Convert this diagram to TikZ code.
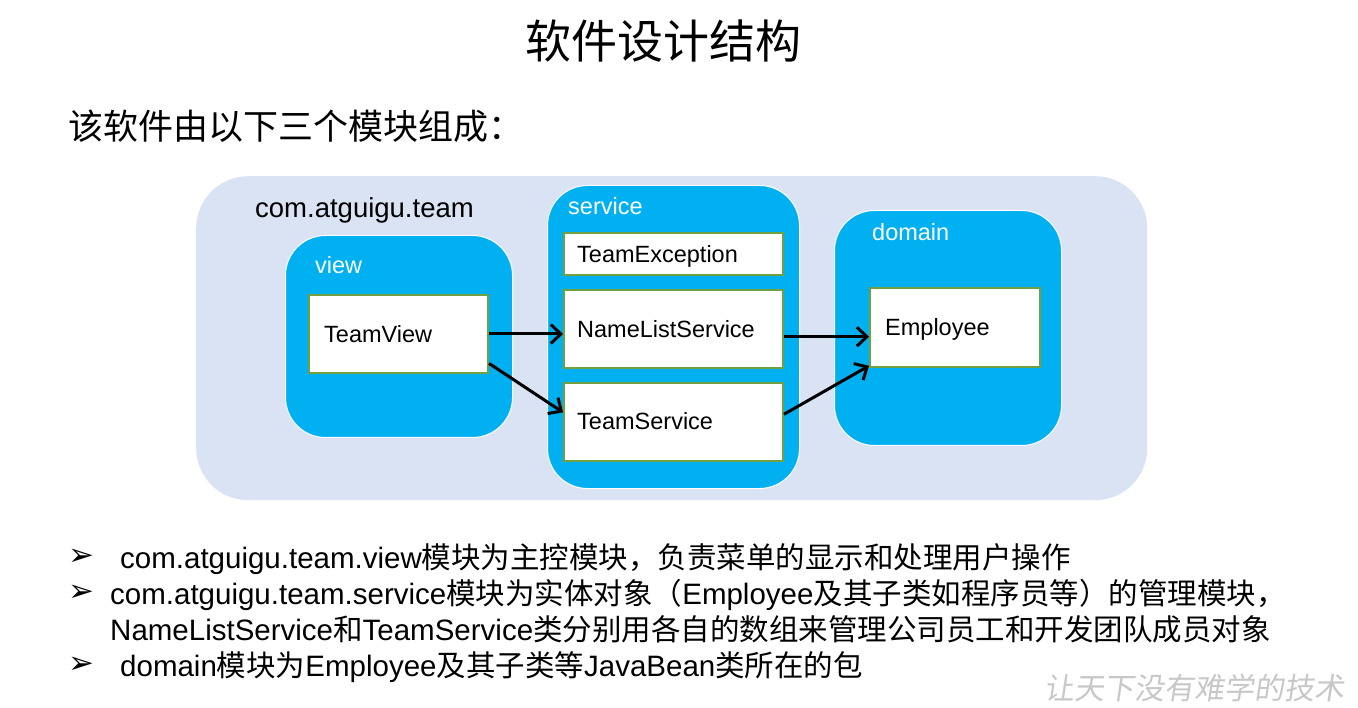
\documentclass[tikz,border=0pt]{standalone}
\usepackage{fontspec}
\setmainfont{Liberation Sans}
\newfontfamily\cjk{Noto Sans CJK SC}
\newfontfamily\wmfont[FakeSlant=0.15]{Noto Sans CJK SC}
\newfontfamily\dingfont{DejaVu Sans}
\usetikzlibrary{arrows.meta}
\definecolor{pagebg}{RGB}{218,227,243}
\definecolor{pkgblue}{RGB}{0,176,240}
\definecolor{boxgreen}{RGB}{112,160,64}
\newcommand{\zh}[1]{{\cjk #1}}

\begin{document}
\begin{tikzpicture}[
    x=1pt, y=-1pt,
    outer/.style={rectangle, rounded corners=52pt, fill=pagebg, anchor=north west, inner sep=0pt},
    pkg/.style={rectangle, rounded corners=40pt, draw=white, line width=1pt, fill=pkgblue, anchor=north west, inner sep=0pt},
    cls/.style={rectangle, draw=boxgreen, line width=2pt, fill=white, anchor=north west, inner sep=0pt},
    lbl/.style={anchor=base west, inner sep=0pt, font=\fontsize{23.5}{28}\selectfont},
    pkglbl/.style={lbl, text=white},
    item/.style={anchor=base west, inner sep=0pt, font=\fontsize{29.5}{36}\selectfont},
    bullet/.style={anchor=west, inner sep=0pt, font=\dingfont\fontsize{31}{34}\selectfont},
    dep/.style={-{Straight Barb[length=10pt,width=19pt]}, line width=3pt}
]
\useasboundingbox (0,0) rectangle (1358,708);

% Heading
\node[anchor=base, inner sep=0pt, font=\cjk\fontsize{46}{50}\selectfont] (title) at (663,59) {软件设计结构};
\node[anchor=base west, inner sep=0pt, font=\cjk\fontsize{35}{40}\selectfont] (intro) at (68,140) {该软件由以下三个模块组成：};

% Packages
\node[outer, minimum width=951pt, minimum height=324pt] (team) at (196,176) {};
\node[lbl, font=\fontsize{27.5}{32}\selectfont] (teamlbl) at (255,218) {com.atguigu.team};

\node[pkg, minimum width=227pt, minimum height=202pt] (view) at (285,235) {};
\node[pkg, minimum width=252pt, minimum height=303pt] (service) at (547,185) {};
\node[pkg, minimum width=227pt, minimum height=235pt] (domain) at (834,210) {};

\node[pkglbl] (viewlbl) at (315,274) {view};
\node[pkglbl] (servicelbl) at (568,215) {service};
\node[pkglbl] (domainlbl) at (872,241) {domain};

% Classes
\node[cls, minimum width=179pt, minimum height=78pt] (tv) at (308,294) {};
\node[cls, minimum width=219pt, minimum height=42pt] (te) at (563,232) {};
\node[cls, minimum width=219pt, minimum height=78pt] (nl) at (563,289) {};
\node[cls, minimum width=219pt, minimum height=78pt] (ts) at (563,382) {};
\node[cls, minimum width=170pt, minimum height=79pt] (emp) at (869,287) {};

\node[lbl] (tvlbl) at (324,343) {TeamView};
\node[lbl] (telbl) at (577,263) {TeamException};
\node[lbl] (nllbl) at (577,338) {NameListService};
\node[lbl] (tslbl) at (577,430) {TeamService};
\node[lbl] (emplbl) at (885,336) {Employee};

% Dependencies
\draw[dep] (tv.east) -- (tv.east -| nl.west);
\draw[dep] (tv.-18) -- (ts.175);
\draw[dep] (nl.-4) -- (nl.-4 -| emp.west);
\draw[dep] (ts.4) -- (emp.-156);

% Notes
\node[bullet] (m1) at (68,557) {➢};
\node[bullet] (m2) at (68,593) {➢};
\node[bullet] (m3) at (68,665) {➢};
\node[item] (n1) at (120,568) {com.atguigu.team.view\zh{模块为主控模块，负责菜单的显示和处理用户操作}};
\node[item] (n2) at (110,604) {com.atguigu.team.service\zh{模块为实体对象（}Employee\zh{及其子类如程序员等）的管理模块，}};
\node[item] (n3) at (110,640) {NameListService\zh{和}TeamService\zh{类分别用各自的数组来管理公司员工和开发团队成员对象}};
\node[item] (n4) at (120,676) {domain\zh{模块为}Employee\zh{及其子类等}JavaBean\zh{类所在的包}};

\node[anchor=base east, inner sep=0pt, text=black!22, font=\wmfont\fontsize{30}{34}\selectfont] (wm) at (1345,699) {让天下没有难学的技术};

\end{tikzpicture}
\end{document}
